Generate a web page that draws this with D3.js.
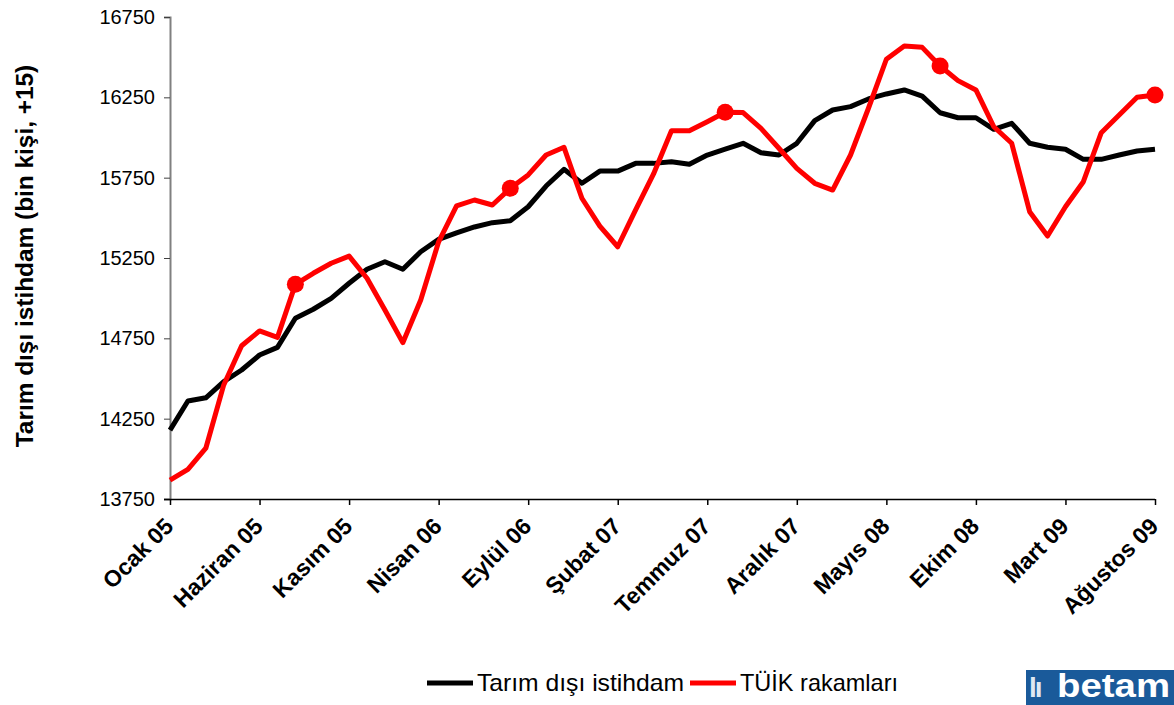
<!DOCTYPE html>
<html>
<head>
<meta charset="utf-8">
<script src="https://cdn.jsdelivr.net/npm/d3@7/dist/d3.min.js"></script>
<style>
  html, body { margin: 0; padding: 0; background: #fff; }
  svg { display: block; }
  text { font-family: Arial, "Liberation Sans", sans-serif; }
</style>
</head>
<body>
<svg id="chart" width="1174" height="705"></svg>
<script>
const categories = [
  "Ocak 05","Şubat 05","Mart 05","Nisan 05","Mayıs 05","Haziran 05","Temmuz 05","Ağustos 05","Eylül 05","Ekim 05","Kasım 05","Aralık 05",
  "Ocak 06","Şubat 06","Mart 06","Nisan 06","Mayıs 06","Haziran 06","Temmuz 06","Ağustos 06","Eylül 06","Ekim 06","Kasım 06","Aralık 06",
  "Ocak 07","Şubat 07","Mart 07","Nisan 07","Mayıs 07","Haziran 07","Temmuz 07","Ağustos 07","Eylül 07","Ekim 07","Kasım 07","Aralık 07",
  "Ocak 08","Şubat 08","Mart 08","Nisan 08","Mayıs 08","Haziran 08","Temmuz 08","Ağustos 08","Eylül 08","Ekim 08","Kasım 08","Aralık 08",
  "Ocak 09","Şubat 09","Mart 09","Nisan 09","Mayıs 09","Haziran 09","Temmuz 09","Ağustos 09"
];

const tarimDisi = [
  14179, 14360, 14380, 14480, 14553, 14646, 14694, 14875, 14931, 14999, 15093, 15180,
  15227, 15180, 15289, 15366, 15406, 15443, 15470, 15482, 15569, 15698, 15802, 15715,
  15791, 15791, 15839, 15839, 15849, 15833, 15891, 15927, 15964, 15905, 15891, 15964,
  16105, 16171, 16192, 16240, 16271, 16296, 16258, 16154, 16123, 16123, 16051, 16088,
  15964, 15939, 15927, 15864, 15864, 15891, 15916, 15927
];

const tuik = [
  13868, 13935, 14066, 14460, 14704, 14796, 14756, 15086, 15155, 15217, 15262, 15124,
  14926, 14723, 14989, 15351, 15574, 15611, 15580, 15684, 15767, 15891, 15939, 15622,
  15449, 15320, 15549, 15773, 16042, 16042, 16098, 16157, 16155, 16057, 15933, 15808,
  15715, 15673, 15891, 16182, 16487, 16569, 16561, 16445, 16354, 16296, 16067, 15964,
  15538, 15387, 15569, 15725, 16030, 16140, 16250, 16265
];

const xTickLabels = ["Ocak 05","Haziran 05","Kasım 05","Nisan 06","Eylül 06","Şubat 07","Temmuz 07","Aralık 07","Mayıs 08","Ekim 08","Mart 09","Ağustos 09"];
const yTicks = [13750, 14250, 14750, 15250, 15750, 16250, 16750];
const markerMonths = ["Ağustos 05","Ağustos 06","Ağustos 07","Ağustos 08","Ağustos 09"];

const seriesNames = ["Tarım dışı istihdam", "TÜİK rakamları"];
const yTitle = "Tarım dışı istihdam (bin kişi, +15)";

const svg = d3.select("#chart");

const x = d3.scalePoint().domain(categories).range([170, 1155]);
const y = d3.scaleLinear().domain([13750, 16750]).range([499, 17]);

// Y axis
const yAxis = svg.append("g")
  .attr("transform", "translate(170,0)")
  .call(d3.axisLeft(y).tickValues(yTicks).tickSize(6).tickPadding(9).tickFormat(d3.format("d")));
yAxis.select(".domain").attr("stroke", "#808080").attr("stroke-width", 2);
yAxis.selectAll(".tick line").attr("stroke", "#404040").attr("stroke-width", 1);
yAxis.selectAll(".tick text").attr("font-size", 20).attr("fill", "#000")
  .attr("font-family", "Arial, 'Liberation Sans', sans-serif");

// X axis
const xAxis = svg.append("g")
  .attr("transform", "translate(0,499)")
  .call(d3.axisBottom(x).tickValues(xTickLabels).tickSize(6).tickSizeOuter(0));
xAxis.select(".domain").attr("stroke", "#000").attr("stroke-width", 1.5)
  .attr("d", "M164,0.5H1155");
xAxis.selectAll(".tick line").attr("stroke", "#000").attr("stroke-width", 1.5);
xAxis.selectAll(".tick text").remove();

// rotated x labels
svg.append("g").selectAll("text")
  .data(xTickLabels)
  .join("text")
  .attr("transform", d => `translate(${x(d) - 7},516) rotate(-45)`)
  .attr("text-anchor", "end")
  .attr("dy", "0.72em")
  .attr("font-size", 23)
  .attr("font-weight", "bold")
  .attr("fill", "#000")
  .text(d => d);

// Y title
svg.append("text")
  .attr("transform", "translate(33,256) rotate(-90)")
  .attr("text-anchor", "middle")
  .attr("font-size", 24.4)
  .attr("font-weight", "bold")
  .attr("fill", "#000")
  .text(yTitle);

// lines
const line = d3.line().x((d, i) => x(categories[i])).y(d => y(d));

svg.append("path")
  .datum(tarimDisi)
  .attr("fill", "none")
  .attr("stroke", "#000")
  .attr("stroke-width", 5)
  .attr("stroke-linejoin", "round")
  .attr("d", line);

svg.append("path")
  .datum(tuik)
  .attr("fill", "none")
  .attr("stroke", "#ff0000")
  .attr("stroke-width", 5)
  .attr("stroke-linejoin", "round")
  .attr("d", line);

// markers
svg.append("g").selectAll("circle")
  .data(markerMonths)
  .join("circle")
  .attr("cx", d => x(d))
  .attr("cy", d => y(tuik[categories.indexOf(d)]))
  .attr("r", 8.5)
  .attr("fill", "#ff0000");

// legend
const legend = svg.append("g");
const legendItems = [
  { name: seriesNames[0], color: "#000", x0: 427, w: 207 },
  { name: seriesNames[1], color: "#ff0000", x0: 690, w: 158 }
];
legendItems.forEach(it => {
  legend.append("line")
    .attr("x1", it.x0).attr("x2", it.x0 + 46)
    .attr("y1", 683).attr("y2", 683)
    .attr("stroke", it.color).attr("stroke-width", 5);
  legend.append("text")
    .attr("x", it.x0 + 50).attr("y", 691)
    .attr("font-size", 24)
    .attr("textLength", it.w)
    .attr("lengthAdjust", "spacingAndGlyphs")
    .attr("fill", "#000")
    .text(it.name);
});

// logo
const logo = svg.append("g");
logo.append("rect").attr("x", 1026).attr("y", 670).attr("width", 148).attr("height", 35).attr("fill", "#1a5a9a");
logo.append("text").attr("x", 1029).attr("y", 697).attr("font-size", 28).attr("font-weight", "bold")
  .attr("fill", "#dfe8f2").attr("letter-spacing", -2).text("lı");
logo.append("text").attr("x", 1057).attr("y", 697).attr("font-size", 33).attr("font-weight", "bold")
  .attr("textLength", 113).attr("lengthAdjust", "spacingAndGlyphs")
  .attr("fill", "#ffffff").text("betam");
</script>
</body>
</html>
